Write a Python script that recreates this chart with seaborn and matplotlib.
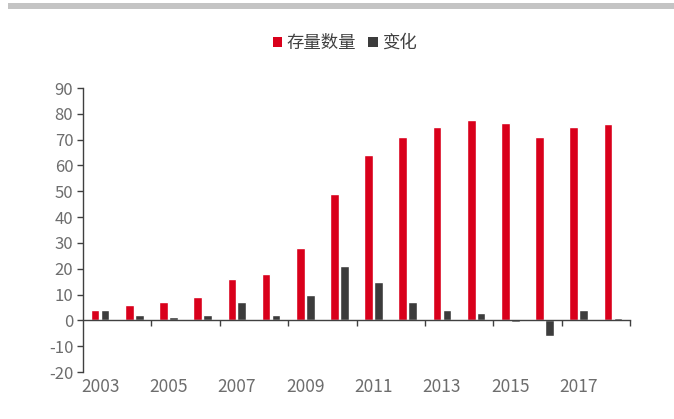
import matplotlib
matplotlib.use("Agg")
import matplotlib.pyplot as plt
from matplotlib.patches import Rectangle, Patch
import seaborn as sns
import pandas as pd

years = [str(y) for y in range(2003, 2019)]
stock = [4, 6, 7, 9, 16, 18, 28, 49, 64, 71, 75, 77.5, 76.6, 71, 75, 76]
change = [4, 2, 1.2, 2, 7, 2, 10, 21, 15, 7, 4, 3, -0.8, -6.2, 4, 1]
series_names = ["存量数量", "变化"]
y_ticks = list(range(-20, 91, 10))
colors = ["#d9001b", "#3c3c3c"]

df = pd.DataFrame({
    "year": years * 2,
    "series": [series_names[0]] * len(years) + [series_names[1]] * len(years),
    "value": stock + change,
})

sns.set_style("white")
plt.rcParams["font.family"] = ["Noto Sans CJK SC", "DejaVu Sans"]
plt.rcParams["axes.unicode_minus"] = False

fig = plt.figure(figsize=(6.74, 4.19), dpi=100)
ax = fig.add_axes([83 / 674, 1 - 372 / 419, 547 / 674, 284 / 419])

sns.barplot(data=df, x="year", y="value", hue="series", palette=colors,
            width=0.58, gap=0.12, ax=ax, legend=False, saturation=1)

ax.set_xlim(-0.5, len(years) - 0.5)
ax.set_ylim(-20, 90)
ax.set_yticks(y_ticks)
ax.set_yticklabels([str(v) for v in y_ticks])
ax.set_xlabel("")
ax.set_ylabel("")

spine_color = "#404040"
for s in ["top", "right"]:
    ax.spines[s].set_visible(False)
ax.spines["bottom"].set_position(("data", 0))
ax.spines["bottom"].set_color(spine_color)
ax.spines["left"].set_color(spine_color)
ax.spines["bottom"].set_linewidth(1.0)
ax.spines["left"].set_linewidth(1.0)

ax.set_xticks([i + 0.5 for i in range(1, len(years), 2)])
ax.set_xticklabels([])
ax.tick_params(axis="x", direction="out", length=4, width=1, color=spine_color, bottom=True)
ax.tick_params(axis="y", direction="out", length=4, width=1, color=spine_color, left=True,
               labelsize=12, labelcolor="#6d6d6d", pad=3)

sec = ax.secondary_xaxis(0.0)
sec.set_xticks(list(range(0, len(years), 2)))
sec.set_xticklabels(years[::2])
sec.tick_params(length=0, labelsize=12.5, labelcolor="#6d6d6d", pad=4)
sec.spines["bottom"].set_visible(False)

handles = [Patch(facecolor=c, edgecolor="none") for c in colors]
fig.legend(handles, series_names, loc="center", bbox_to_anchor=(345 / 674, 1 - 43 / 419),
           ncol=2, frameon=False, handlelength=0.55, handleheight=0.55, handletextpad=0.25,
           columnspacing=0.7, prop={"size": 12.5}, labelcolor="#404040")

fig.add_artist(Rectangle((8 / 674, 1 - 9 / 419), 1 - 8 / 674, 6 / 419,
                         transform=fig.transFigure, facecolor="#c4c4c4", edgecolor="none"))

fig.savefig("out.png", dpi=100)
